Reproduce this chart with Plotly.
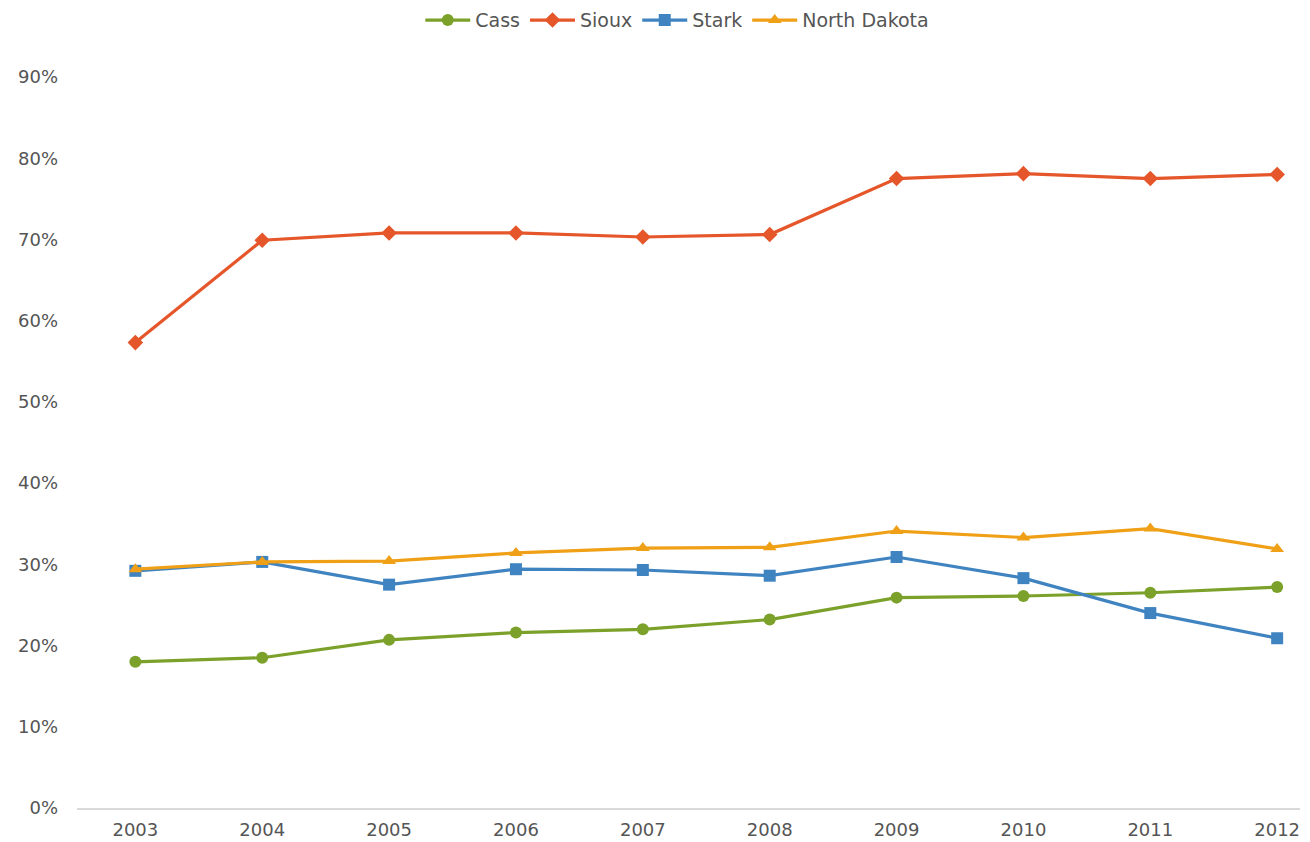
import plotly.graph_objects as go

years = [2003, 2004, 2005, 2006, 2007, 2008, 2009, 2010, 2011, 2012]
cass = [0.180, 0.185, 0.207, 0.216, 0.220, 0.232, 0.259, 0.261, 0.265, 0.272]
sioux = [0.573, 0.699, 0.708, 0.708, 0.703, 0.706, 0.775, 0.781, 0.775, 0.780]
stark = [0.292, 0.303, 0.275, 0.294, 0.293, 0.286, 0.309, 0.283, 0.240, 0.209]
north_dakota = [0.294, 0.303, 0.304, 0.314, 0.320, 0.321, 0.341, 0.333, 0.344, 0.319]

series = [
    ("Cass", cass, "#7BA12A", "circle"),
    ("Sioux", sioux, "#E5562A", "diamond"),
    ("Stark", stark, "#3F84C1", "square"),
    ("North Dakota", north_dakota, "#EFA016", "triangle-up"),
]

fig = go.Figure()
for name, vals, color, sym in series:
    fig.add_trace(go.Scatter(
        x=years, y=vals, name=name, mode="lines+markers",
        line=dict(color=color, width=3.2),
        marker=dict(color=color, symbol=sym, size=12),
    ))

fig.update_layout(
    width=1310, height=842,
    margin=dict(l=77, r=10, t=77, b=34, autoexpand=False),
    paper_bgcolor="white", plot_bgcolor="white",
    font=dict(family="DejaVu Sans, sans-serif", color="#555555", size=17),
    legend=dict(orientation="h", x=0.517, xanchor="center", xref="container",
                y=0.976, yanchor="middle", yref="container",
                font=dict(size=19, color="#555555"), itemwidth=45),
    showlegend=True,
)
fig.update_xaxes(
    range=[2002.54, 2012.18], tickmode="array", tickvals=years,
    ticktext=[str(y) for y in years], showgrid=False, zeroline=False,
    showline=True, linecolor="#d9d9d9", linewidth=1.5, ticks="",
    ticklabelstandoff=5, tickfont=dict(size=18),
)
fig.update_yaxes(
    range=[0, 0.9], tickvals=[i / 10 for i in range(10)], tickformat=".0%",
    showgrid=False, zeroline=False, showline=False, ticks="",
    ticklabelstandoff=18, tickfont=dict(size=18),
)

fig.write_html("out.html")
